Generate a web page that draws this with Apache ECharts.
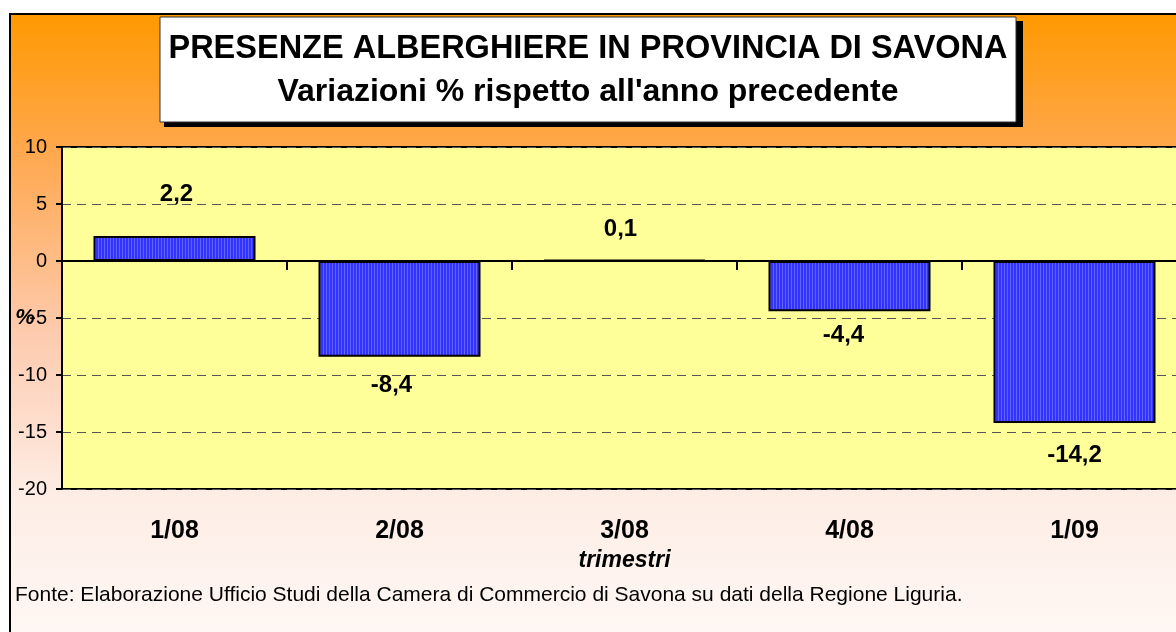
<!DOCTYPE html>
<html><head><meta charset="utf-8">
<script src="https://cdn.jsdelivr.net/npm/echarts@6/dist/echarts.min.js"></script>
<style>html,body{margin:0;padding:0;background:#fff}#c{width:1176px;height:632px}</style>
</head><body><div id="c"></div>
<script>
// ---- data ----
const categories = ['1/08', '2/08', '3/08', '4/08', '1/09'];
const values = [2.2, -8.4, 0.1, -4.4, -14.2];
const yMin = -20, yMax = 10, yInterval = 5;
const titleLine1 = 'PRESENZE ALBERGHIERE IN PROVINCIA DI SAVONA';
const titleLine2 = "Variazioni % rispetto all'anno precedente";
const xName = 'trimestri';
const yName = '%';
const sourceNote = 'Fonte: Elaborazione Ufficio Studi della Camera di Commercio di Savona su dati della Regione Liguria.';

// ---- style (label placement tweaks, not data) ----
const labelDistance = [30, 17, 18, 12, 20];
const labelShiftX = [2, -8, -4, -6, 0];
const FONT = '"Liberation Sans", Arial, sans-serif';

const pc = document.createElement('canvas');
pc.width = 3; pc.height = 4;
const g = pc.getContext('2d');
g.fillStyle = '#3333FF'; g.fillRect(0, 0, 3, 4);
g.fillStyle = '#6262FF'; g.fillRect(2, 0, 1, 4);

const fmt = v => v.toFixed(1).replace('.', ',');

const chart = echarts.init(document.getElementById('c'), null, {renderer: 'canvas'});
chart.setOption({
  animation: false,
  backgroundColor: '#ffffff',
  textStyle: {fontFamily: FONT},
  graphic: [
    {type: 'rect', z: -10, shape: {x: 10, y: 14, width: 1180, height: 640},
      style: {fill: new echarts.graphic.LinearGradient(0, 0, 0, 1, [
        {offset: 0, color: '#FF9900'},
        {offset: 0.22, color: '#FFA84F'},
        {offset: 0.5, color: '#FDCBAE'},
        {offset: 0.75, color: '#FDEDE5'},
        {offset: 1, color: '#FFF9F6'}]), stroke: '#000', lineWidth: 2}},
    {type: 'rect', z: 20, shape: {x: 164, y: 21, width: 859, height: 106}, style: {fill: '#000'}},
    {type: 'rect', z: 21, shape: {x: 160, y: 17, width: 856, height: 105}, style: {fill: '#fff', stroke: '#333', lineWidth: 1}},
    {type: 'text', z: 22, x: 588, y: 49, style: {text: titleLine1, fill: '#000', font: 'bold 32.5px ' + FONT, textAlign: 'center', textVerticalAlign: 'middle'}},
    {type: 'text', z: 22, x: 588, y: 92, style: {text: titleLine2, fill: '#000', font: 'bold 32px ' + FONT, textAlign: 'center', textVerticalAlign: 'middle'}},
    {type: 'text', z: 22, x: 25, y: 318, style: {text: yName, fill: '#000', font: 'italic bold 22px ' + FONT, textAlign: 'center', textVerticalAlign: 'middle'}},
    {type: 'text', z: 22, x: 15, y: 595, style: {text: sourceNote, fill: '#000', font: '21px ' + FONT, textAlign: 'left', textVerticalAlign: 'middle'}}
  ],
  grid: {left: 62, top: 147, right: -11, bottom: 143, show: true, backgroundColor: '#FFFF99',
    borderColor: '#000', borderWidth: 2, outerBoundsMode: 'none', containLabel: false},
  xAxis: [
    {type: 'category', data: categories, position: 'top', boundaryGap: true,
      axisLine: {show: true, onZero: true, lineStyle: {color: '#000', width: 2}},
      axisTick: {show: true, inside: true, length: 9, lineStyle: {color: '#000', width: 2}},
      axisLabel: {show: false}, splitLine: {show: false}},
    {type: 'category', data: categories, position: 'bottom', boundaryGap: true,
      axisLine: {show: false, onZero: false}, axisTick: {show: false},
      axisLabel: {show: true, margin: 30, color: '#000', fontSize: 25, fontWeight: 'bold', fontFamily: FONT},
      name: xName, nameLocation: 'middle', nameGap: 60,
      nameTextStyle: {color: '#000', fontSize: 23, fontWeight: 'bold', fontStyle: 'italic', fontFamily: FONT}}
  ],
  yAxis: {type: 'value', min: yMin, max: yMax, interval: yInterval,
    axisLine: {show: true, lineStyle: {color: '#000', width: 2}},
    axisTick: {show: true, length: 6, lineStyle: {color: '#000', width: 2}},
    axisLabel: {color: '#000', fontSize: 20, margin: 15, fontFamily: FONT},
    splitLine: {show: true, lineStyle: {color: '#555', width: 1, type: [9, 6]}}},
  series: [{
    type: 'bar', xAxisIndex: 0, barWidth: '72%', z: 3,
    data: values.map((v, i) => ({value: v,
      label: {position: v >= 0 ? 'top' : 'outside', distance: labelDistance[i], offset: [labelShiftX[i], 0]}})),
    itemStyle: {color: {image: pc, repeat: 'repeat'}, borderColor: '#000', borderWidth: 2},
    label: {show: true, color: '#000', fontSize: 24, fontWeight: 'bold', fontFamily: FONT,
      formatter: p => fmt(p.value)}
  }]
});
</script></body></html>
